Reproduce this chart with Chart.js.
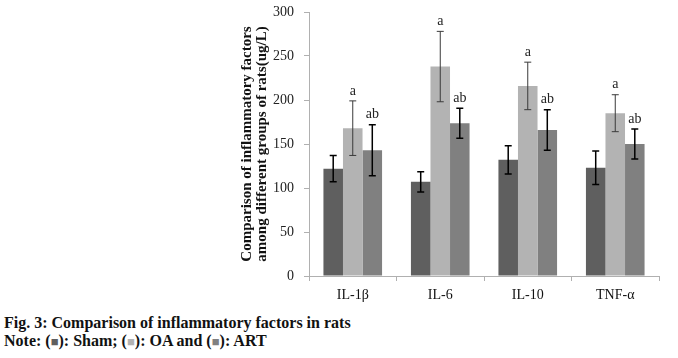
<!DOCTYPE html>
<html>
<head>
<meta charset="utf-8">
<script src="https://cdn.jsdelivr.net/npm/chart.js@4"></script>
<style>
  html, body { margin: 0; padding: 0; background: #fff; }
  #wrap { position: absolute; left: 0; top: 0; width: 678px; height: 310px; }
  #caption { position: absolute; left: 4px; top: 314px; font-family: "Liberation Serif", "Times New Roman", serif; font-weight: bold; font-size: 16px; line-height: 18px; color: #111; white-space: nowrap; }
  .sq { font-size: 13px; }
</style>
</head>
<body>
<div id="wrap"><canvas id="c" width="678" height="310"></canvas></div>
<div id="caption">
  <div>Fig. 3: Comparison of inflammatory factors in rats</div>
  <div>Note: (<span class="sq" style="color:#5f5f5f">■</span>): Sham; (<span class="sq" style="color:#b3b3b3">■</span>): OA and (<span class="sq" style="color:#808080">■</span>): ART</div>
</div>
<script>
const categories = ['IL-1β', 'IL-6', 'IL-10', 'TNF-α'];
const seriesNames = ['Sham', 'OA', 'ART'];
const shamValues = [122, 107, 132, 123];
const shamErrors = [15, 11.5, 16, 19];
const oaValues = [168, 238, 216, 185];
const oaErrors = [31, 40, 27, 21];
const artValues = [143, 173.5, 166, 150];
const artErrors = [29, 17, 23, 17];
const oaMarks = ['a', 'a', 'a', 'a'];
const artMarks = ['ab', 'ab', 'ab', 'ab'];
const yMin = 0, yMax = 300, yStep = 50;
const yTitle = ['Comparison of inflammatory factors', 'among different groups of rats(ug/L)'];

const FONT = '"Liberation Serif", "Times New Roman", serif';
const errorSets = [shamErrors, oaErrors, artErrors];
const markSets = [null, oaMarks, artMarks];
const errColors = ['#000000', '#3a3a3a', '#000000'];
const errWidths = [1.5, 1, 1.5];

const errorPlugin = {
  id: 'errorBars',
  afterDatasetsDraw(chart) {
    const ctx = chart.ctx;
    const y = chart.scales.y;
    chart.data.datasets.forEach((ds, di) => {
      const meta = chart.getDatasetMeta(di);
      const errs = errorSets[di];
      const marks = markSets[di];
      meta.data.forEach((bar, i) => {
        const v = ds.data[i], e = errs[i];
        const x = bar.x;
        const yt = y.getPixelForValue(v + e);
        const yb = y.getPixelForValue(v - e);
        ctx.save();
        ctx.strokeStyle = errColors[di];
        ctx.lineWidth = errWidths[di];
        ctx.beginPath();
        ctx.moveTo(x, yt); ctx.lineTo(x, yb);
        ctx.moveTo(x - 3.5, yt); ctx.lineTo(x + 3.5, yt);
        ctx.moveTo(x - 3.5, yb); ctx.lineTo(x + 3.5, yb);
        ctx.stroke();
        if (marks) {
          ctx.fillStyle = '#222';
          ctx.font = '14px ' + FONT;
          ctx.textAlign = 'center';
          ctx.textBaseline = 'bottom';
          ctx.fillText(marks[i], x, yt - 3);
        }
        ctx.restore();
      });
    });
  }
};

new Chart(document.getElementById('c'), {
  type: 'bar',
  data: {
    labels: categories,
    datasets: [
      { label: seriesNames[0], data: shamValues, backgroundColor: '#5f5f5f' },
      { label: seriesNames[1], data: oaValues, backgroundColor: '#b3b3b3' },
      { label: seriesNames[2], data: artValues, backgroundColor: '#808080' }
    ]
  },
  options: {
    responsive: false,
    animation: false,
    events: [],
    categoryPercentage: 0.67,
    barPercentage: 1.0,
    layout: { padding: { left: 232, right: 19, top: 12, bottom: 0 } },
    plugins: { legend: { display: false }, tooltip: { enabled: false } },
    scales: {
      x: {
        afterFit(s) { s.height = 34; s.paddingLeft = 0; s.paddingRight = 0; },
        grid: { offset: true, drawOnChartArea: false, tickLength: 5, color: '#b0b0b0' },
        border: { color: '#b0b0b0', width: 1 },
        ticks: { color: '#111', font: { family: FONT, size: 14 }, padding: 6 }
      },
      y: {
        min: yMin, max: yMax,
        afterFit(s) { s.width = 77; s.paddingTop = 0; s.paddingBottom = 0; },
        grid: { drawOnChartArea: false, tickLength: 5, color: '#b0b0b0' },
        border: { color: '#b0b0b0', width: 1 },
        ticks: { stepSize: yStep, color: '#222', font: { family: FONT, size: 14 }, padding: 10 },
        title: { display: true, text: yTitle, color: '#111', font: { family: FONT, size: 15, weight: 'bold', lineHeight: '15px' }, padding: { top: 8, bottom: 0 } }
      }
    }
  },
  plugins: [errorPlugin]
});
</script>
</body>
</html>
